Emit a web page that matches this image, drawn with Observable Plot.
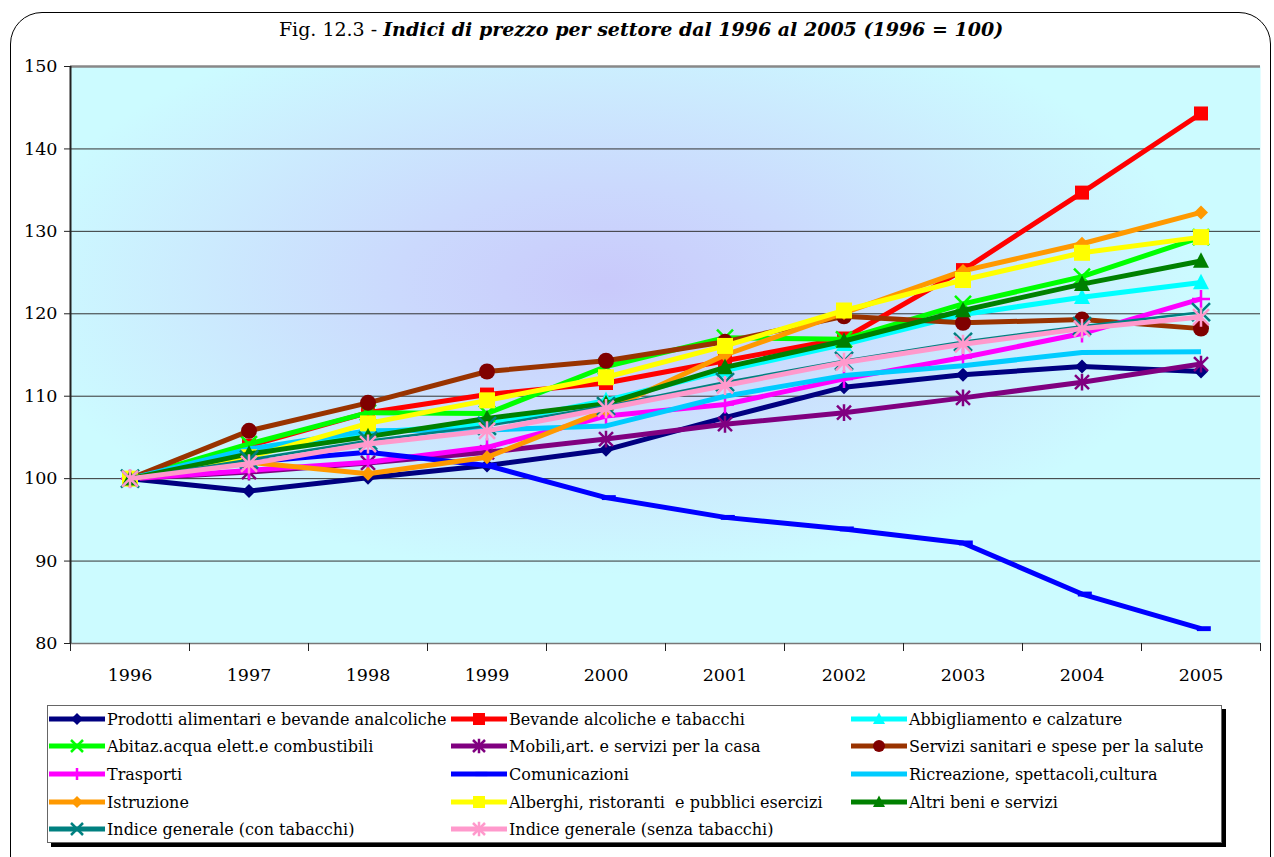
<!DOCTYPE html>
<html>
<head>
<meta charset="utf-8">
<script src="https://cdn.jsdelivr.net/npm/d3@7"></script>
<script src="https://cdn.jsdelivr.net/npm/@observablehq/plot@0.6"></script>
<style>
  html, body { margin: 0; padding: 0; background: #fff; overflow: hidden; }
  body { width: 1274px; height: 857px; position: relative; font-family: "DejaVu Serif", "Liberation Serif", serif; color: #000; }
  #frame { position: absolute; left: 10px; top: 12px; width: 1259px; height: 880px; border: 1.6px solid #000; border-radius: 32px; }
  #title { position: absolute; left: 0; top: 18px; width: 1282px; text-align: center; font-size: 19px; white-space: nowrap; }
  #title b { font-style: italic; }
  #chart { position: absolute; left: 0; top: 50px; }
  #legend { position: absolute; left: 47px; top: 705px; width: 1173px; height: 136px; border: 1px solid #666; background: #fff; box-shadow: 4px 4px 0 #000; }
  .item { position: absolute; height: 22px; display: flex; align-items: center; font-size: 16px; white-space: pre; }
  .item svg { display: block; margin-right: 1px; }
</style>
</head>
<body>
<div id="frame"></div>
<div id="title">Fig. 12.3 - <b>Indici di prezzo per settore dal 1996 al 2005 (1996 = 100)</b></div>
<div id="chart"></div>
<div id="legend"></div>
<script>
// Years on the category axis
const years = [1996, 1997, 1998, 1999, 2000, 2001, 2002, 2003, 2004, 2005];
const yTicks = [80, 90, 100, 110, 120, 130, 140, 150];

// Price indices by sector (1996 = 100)
const prodottiAlimentari = [100, 98.5, 100.1, 101.6, 103.5, 107.4, 111.1, 112.6, 113.6, 113.0];
const bevandeAlcoliche   = [100, 104.0, 108.0, 110.2, 111.6, 114.3, 117.0, 125.3, 134.7, 144.3];
const abbigliamento      = [100, 103.5, 105.6, 106.6, 109.5, 113.1, 116.3, 119.9, 122.0, 123.8];
const abitazione         = [100, 104.2, 108.0, 107.9, 113.6, 117.1, 116.9, 121.2, 124.5, 129.3];
const mobili             = [100, 100.8, 101.9, 103.2, 104.8, 106.6, 108.0, 109.8, 111.7, 113.9];
const serviziSanitari    = [100, 105.8, 109.2, 113.0, 114.3, 116.6, 119.7, 118.9, 119.3, 118.2];
const trasporti          = [100, 101.0, 102.0, 103.8, 107.6, 109.0, 112.1, 114.7, 117.6, 121.8];
const comunicazioni      = [100, 102.0, 103.2, 101.6, 97.7, 95.3, 93.9, 92.2, 86.0, 81.8];
const ricreazione        = [100, 103.6, 105.8, 105.9, 106.4, 110.0, 112.5, 113.7, 115.3, 115.4];
const istruzione         = [100, 102.0, 100.6, 102.6, 108.3, 115.0, 120.1, 125.2, 128.5, 132.3];
const alberghi           = [100, 102.6, 106.7, 109.5, 112.3, 116.1, 120.4, 124.1, 127.4, 129.3];
const altriBeni          = [100, 103.0, 105.1, 107.3, 109.1, 113.5, 116.7, 120.4, 123.6, 126.4];
const indiceConTabacchi  = [100, 102.3, 104.6, 106.4, 108.8, 111.7, 114.3, 116.6, 118.5, 120.2];
const indiceSenzaTabacchi= [100, 101.8, 104.2, 105.8, 108.5, 111.3, 114.1, 116.3, 118.2, 119.6];

// Marker shapes (size = PI * r^2, as Plot passes it)
const rad = s => Math.sqrt(s / Math.PI);
const symbols = {
  diamond:  { draw(c, s) { const r = rad(s); c.moveTo(0, -r); c.lineTo(r, 0); c.lineTo(0, r); c.lineTo(-r, 0); c.closePath(); } },
  square:   { draw(c, s) { const r = rad(s); c.rect(-r, -r, 2 * r, 2 * r); } },
  triangle: { draw(c, s) { const r = rad(s); c.moveTo(0, -r * 1.1); c.lineTo(r, r * 0.85); c.lineTo(-r, r * 0.85); c.closePath(); } },
  circle:   { draw(c, s) { const r = rad(s); c.moveTo(r, 0); c.arc(0, 0, r, 0, 2 * Math.PI); } },
  times:    { draw(c, s) { const r = rad(s); c.moveTo(-r, -r); c.lineTo(r, r); c.moveTo(r, -r); c.lineTo(-r, r); } },
  asterisk: { draw(c, s) { const r = rad(s); c.moveTo(-r, -r); c.lineTo(r, r); c.moveTo(r, -r); c.lineTo(-r, r); c.moveTo(0, -r * 1.2); c.lineTo(0, r * 1.2); } },
  plus:     { draw(c, s) { const r = rad(s); c.moveTo(0, -r); c.lineTo(0, r); c.moveTo(-r, 0); c.lineTo(r, 0); } },
  dash:     { draw(c, s) { const r = rad(s); c.rect(-r * 0.6, -r * 0.35, r * 2, r * 0.7); } }
};

// Series, in drawing order, with their line and marker styling
const series = [
  { name: "Prodotti alimentari e bevande analcoliche", values: prodottiAlimentari, line: "#000080", mark: "#000080", width: 5, symbol: "diamond", r: 7, filled: true },
  { name: "Bevande alcoliche e tabacchi", values: bevandeAlcoliche, line: "#ff0000", mark: "#ff0000", width: 5, symbol: "square", r: 7, filled: true },
  { name: "Abbigliamento e calzature", values: abbigliamento, line: "#00ffff", mark: "#00ffff", width: 5, symbol: "triangle", r: 8, filled: true },
  { name: "Abitaz.acqua elett.e combustibili", values: abitazione, line: "#00ff00", mark: "#00ff00", width: 5, symbol: "times", r: 8, filled: false },
  { name: "Mobili,art. e servizi per la casa", values: mobili, line: "#800080", mark: "#800080", width: 5, symbol: "asterisk", r: 7, filled: false },
  { name: "Servizi sanitari e spese per la salute", values: serviziSanitari, line: "#993300", mark: "#800000", width: 5, symbol: "circle", r: 8, filled: true },
  { name: "Trasporti", values: trasporti, line: "#ff00ff", mark: "#ff00ff", width: 5, symbol: "plus", r: 9, filled: false },
  { name: "Comunicazioni", values: comunicazioni, line: "#0000ff", mark: "#0000ff", width: 5, symbol: "dash", r: 7, filled: true },
  { name: "Ricreazione, spettacoli,cultura", values: ricreazione, line: "#00ccff", mark: null, width: 5, symbol: null, r: 0, filled: true },
  { name: "Istruzione", values: istruzione, line: "#ff9900", mark: "#ff9900", width: 5, symbol: "diamond", r: 7, filled: true },
  { name: "Alberghi, ristoranti  e pubblici esercizi", values: alberghi, line: "#ffff00", mark: "#ffff00", width: 5, symbol: "square", r: 8, filled: true },
  { name: "Altri beni e servizi", values: altriBeni, line: "#008000", mark: "#008000", width: 5, symbol: "triangle", r: 8, filled: true },
  { name: "Indice generale (con tabacchi)", values: indiceConTabacchi, line: "#008080", mark: "#008080", width: 2.5, symbol: "times", r: 9, filled: false },
  { name: "Indice generale (senza tabacchi)", values: indiceSenzaTabacchi, line: "#ff99cc", mark: "#ff99cc", width: 5, symbol: "asterisk", r: 8, filled: false }
];

const rows = s => years.map((year, i) => ({ year, value: s.values[i] }));
const boundaries = d3.range(1995.5, 2006, 1);

// Gradient used behind the plotting area
function backgroundDefs() {
  const defs = d3.create("svg:defs");
  const g = defs.append("radialGradient").attr("id", "plotBg")
    .attr("cx", 0.45).attr("cy", 0.38).attr("r", 0.5);
  g.append("stop").attr("offset", 0).attr("stop-color", "#c9c9fb");
  g.append("stop").attr("offset", 0.35).attr("stop-color", "#cbd9fd");
  g.append("stop").attr("offset", 1).attr("stop-color", "#ccfbff");
  return defs.node();
}

const seriesMarks = series.flatMap(s => {
  const data = rows(s);
  const marks = [Plot.line(data, { x: "year", y: "value", stroke: s.line, strokeWidth: s.width, strokeLinejoin: "round", strokeLinecap: "butt" })];
  if (s.symbol) {
    marks.push(Plot.dot(data, s.filled
      ? { x: "year", y: "value", symbol: symbols[s.symbol], r: s.r, fill: s.mark, stroke: "none" }
      : { x: "year", y: "value", symbol: symbols[s.symbol], r: s.r, fill: "none", stroke: s.mark, strokeWidth: 2.5 }));
  }
  return marks;
});

const chart = Plot.plot({
  width: 1274,
  height: 650,
  marginLeft: 70,
  marginRight: 14,
  marginTop: 16,
  marginBottom: 57,
  x: { type: "linear", domain: [1995.5, 2005.5], label: null, axis: null },
  y: { domain: [80, 150], label: null, axis: null },
  style: { fontFamily: "'DejaVu Serif', 'Liberation Serif', serif", background: "transparent", overflow: "visible" },
  marks: [
    backgroundDefs,
    Plot.frame({ fill: "url(#plotBg)", stroke: null }),
    Plot.ruleY([90, 100, 110, 120, 130, 140], { stroke: "#333", strokeWidth: 1 }),
    Plot.ruleY([150], { stroke: "#888", strokeWidth: 2.5 }),
    Plot.ruleY([80], { stroke: "#777", strokeWidth: 1.5 }),
    Plot.ruleX([1995.5], { stroke: "#222", strokeWidth: 2 }),
    Plot.axisY({ ticks: yTicks, tickSize: 6, tickPadding: 7, fontSize: 17.5, label: null, tickFormat: d => String(d), stroke: "#222" }),
    Plot.axisX({ ticks: boundaries, tickSize: 8, tickFormat: () => "", label: null, stroke: "#222" }),
    Plot.axisX({ ticks: years, tickSize: 0, tickPadding: 25, fontSize: 17.5, label: null, tickFormat: d => String(d) }),
    ...seriesMarks
  ]
});
document.getElementById("chart").appendChild(chart);

// Legend: three columns, filled row by row
const legend = d3.select("#legend");
const colX = [0, 402, 802];
const rowY = [2, 29, 57, 85, 112];
series.forEach((s, i) => {
  const item = legend.append("div").attr("class", "item")
    .style("left", colX[i % 3] + "px")
    .style("top", rowY[Math.floor(i / 3)] + "px");
  const svg = item.append("svg").attr("width", 58).attr("height", 22);
  svg.append("line").attr("x1", 1).attr("x2", 57).attr("y1", 11).attr("y2", 11)
    .attr("stroke", s.line).attr("stroke-width", 5);
  if (s.symbol) {
    const path = d3.symbol().type(symbols[s.symbol]).size(Math.PI * 6 * 6)();
    const p = svg.append("path").attr("d", path).attr("transform", "translate(29,11)");
    if (s.filled) p.attr("fill", s.mark);
    else p.attr("fill", "none").attr("stroke", s.mark).attr("stroke-width", 2.5);
  }
  item.append("span").text(s.name);
});
</script>
</body>
</html>
